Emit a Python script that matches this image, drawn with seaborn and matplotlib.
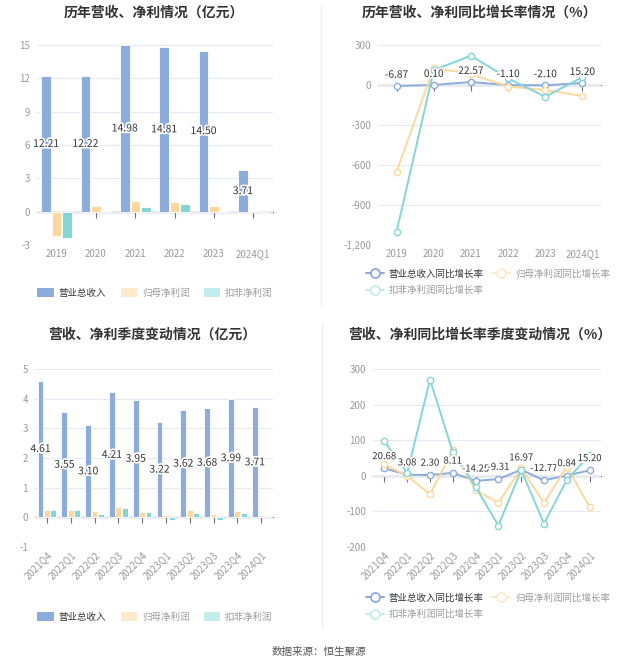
import matplotlib
matplotlib.use('Agg')
import matplotlib.pyplot as plt
import matplotlib.patheffects as pe
from matplotlib.lines import Line2D
from matplotlib.patches import Patch
from matplotlib.ticker import MultipleLocator, FuncFormatter
import pandas as pd
import seaborn as sb

# ---- data ----
years = ['2019', '2020', '2021', '2022', '2023', '2024Q1']
year_rev = [12.21, 12.22, 14.98, 14.81, 14.50, 3.71]
year_np = [-2.16, 0.54, 1.00, 0.84, 0.48, 0.02]
year_dnp = [-2.37, 0.10, 0.45, 0.69, 0.05, 0.01]

year_rev_g = [-6.87, 0.10, 22.57, -1.10, -2.10, 15.20]
year_np_g = [-650, 130, 82, -12, -37, -82]
year_dnp_g = [-1100, 112, 220, 50, -88, 58]

quarters = ['2021Q4', '2022Q1', '2022Q2', '2022Q3', '2022Q4',
            '2023Q1', '2023Q2', '2023Q3', '2023Q4', '2024Q1']
q_rev = [4.61, 3.55, 3.10, 4.21, 3.95, 3.22, 3.62, 3.68, 3.99, 3.71]
q_np = [0.26, 0.26, 0.20, 0.36, 0.17, 0.08, 0.24, 0.10, 0.21, 0.01]
q_dnp = [0.24, 0.24, 0.12, 0.30, 0.17, -0.08, 0.15, -0.09, 0.16, 0.03]

q_rev_g = [20.68, 3.08, 2.30, 8.11, -14.25, -9.31, 16.97, -12.77, 0.84, 15.20]
q_np_g = [32, 0, -52, 72, -40, -76, 21, -76, 25, -87]
q_dnp_g = [97, 8, 270, 67, -31, -140, 16, -134, -12, 58]

bar_names = ['营业总收入', '归母净利润', '扣非净利润']
line_names = ['营业总收入同比增长率', '归母净利润同比增长率', '扣非净利润同比增长率']
colors = ['#8cacdb', '#fdd89c', '#86d5d6']
legend_colors = ['#8cacdb', '#fee9cb', '#c3ecec']

sb.set_style('white')
plt.rcParams['font.family'] = ['Noto Sans CJK SC', 'DejaVu Sans']
plt.rcParams['axes.unicode_minus'] = False

W, H = 637, 668
fig = plt.figure(figsize=(W / 100, H / 100), dpi=100)


def fx(px):
    return px / W


def fy(py):
    return 1 - py / H


def add_ax(x0, y0, x1, y1):
    return fig.add_axes([fx(x0), fy(y1), fx(x1 - x0), (y1 - y0) / H])


def style_axes(ax, cats, ymin, ymax, step, rotate=False):
    ax.set_xlim(-0.5, len(cats) - 0.5)
    ax.set_ylim(ymin, ymax)
    ax.yaxis.set_major_locator(MultipleLocator(step))
    ax.yaxis.set_major_formatter(FuncFormatter(lambda v, p: f'{v:,.0f}'))
    for s in ax.spines.values():
        s.set_visible(False)
    ax.grid(axis='y', color='#e6e9f1', lw=0.8)
    ax.grid(axis='x', visible=False)
    ax.set_axisbelow(True)
    ax.tick_params(axis='both', length=0, colors='#9a9a9a', labelsize=7)
    ax.tick_params(axis='y', pad=5)
    ax.set_xlabel('')
    ax.set_ylabel('')
    if rotate:
        ax.tick_params(axis='x', labelrotation=45, pad=2)
        for lbl in ax.get_xticklabels():
            lbl.set_ha('right')
            lbl.set_rotation_mode('anchor')
    else:
        ax.tick_params(axis='x', pad=3)
    # zero axis line with ticks at category centres
    sec = ax.secondary_xaxis((0 - ymin) / (ymax - ymin))
    sec.set_alignment('bottom')
    sec.set_xticks(range(len(cats)))
    sec.tick_params(length=4, width=0.8, color='#6e7079', labelbottom=False)
    sec.spines['bottom'].set_color('#6e7079')
    sec.spines['bottom'].set_linewidth(0.9)


def bar_panel(ax, cats, rev, np_, dnp):
    df = pd.DataFrame({
        'period': cats * 3,
        'item': [n for n in bar_names for _ in cats],
        'value': rev + np_ + dnp,
    })
    sb.barplot(data=df, x='period', y='value', hue='item', hue_order=bar_names,
               palette=colors, saturation=1, width=0.8, gap=0.08, edgecolor='white',
               linewidth=0.6, errorbar=None, legend=False, ax=ax)
    ax.bar_label(ax.containers[0], labels=[f'{v:.2f}' for v in rev],
                 label_type='center', fontsize=7.5, color='#333333',
                 path_effects=[pe.withStroke(linewidth=2.5, foreground='white')])


def line_panel(ax, cats, a, b, c, off, fs):
    df = pd.DataFrame({
        'period': cats * 3,
        'item': [n for n in line_names for _ in cats],
        'value': a + b + c,
    })
    sb.lineplot(data=df, x='period', y='value', hue='item', hue_order=line_names,
                palette=colors, marker='o', markersize=4.5, linewidth=1.4,
                sort=False, legend=False, ax=ax)
    for ln in ax.lines:
        ln.set_markerfacecolor('white')
        ln.set_markeredgecolor(ln.get_color())
        ln.set_markeredgewidth(1.0)
    for cat, v in zip(cats, a):
        ax.annotate(f'{v:.2f}', xy=(cat, v), xytext=(0, off), textcoords='offset points',
                    ha='center', va='center', fontsize=fs, color='#333333',
                    path_effects=[pe.withStroke(linewidth=2.5, foreground='white')])


def bar_legend(ax, cx, cy):
    handles = [Patch(facecolor=c, edgecolor='none') for c in legend_colors]
    lg = ax.legend(handles, bar_names, loc='center', bbox_to_anchor=(fx(cx), fy(cy)),
                   bbox_transform=fig.transFigure, ncol=3, frameon=False,
                   fontsize=6.8, handlelength=1.7, handleheight=1.0,
                   handletextpad=0.5, columnspacing=1.6)
    for i, t in enumerate(lg.get_texts()):
        t.set_color('#333333' if i == 0 else '#9a9a9a')


def line_legend(ax, x0, y0):
    handles = [Line2D([0], [0], color=c, lw=1.5, marker='o', markersize=6.5,
                      markerfacecolor='white', markeredgecolor=c, markeredgewidth=1.3)
               for c in legend_colors]
    # legend fills column-wise: put the third item under the first
    order = [0, 2, 1]
    lg = ax.legend([handles[i] for i in order], [line_names[i] for i in order],
                   loc='upper left', bbox_to_anchor=(fx(x0), fy(y0)),
                   bbox_transform=fig.transFigure, ncol=2, frameon=False,
                   fontsize=6.8, handlelength=1.9, handletextpad=0.5,
                   columnspacing=0.9, labelspacing=0.75, borderpad=0, borderaxespad=0)
    for i, t in zip(order, lg.get_texts()):
        t.set_color('#333333' if i == 0 else '#9a9a9a')


title_kw = dict(ha='center', va='center', fontsize=10, fontweight='bold', color='#333333')

# top left: yearly revenue / profit
ax1 = add_ax(37, 45, 273, 245)
bar_panel(ax1, years, year_rev, year_np, year_dnp)
style_axes(ax1, years, -3, 15, 3)
bar_legend(ax1, 155, 293)
fig.text(fx(154), fy(13), '历年营收、净利情况（亿元）', **title_kw)

# top right: yearly growth
ax2 = add_ax(378, 45, 601, 245)
line_panel(ax2, years, year_rev_g, year_np_g, year_dnp_g, 8, 7.3)
style_axes(ax2, years, -1200, 300, 300)
line_legend(ax2, 366, 269)
fig.text(fx(479), fy(13), '历年营收、净利同比增长率情况（%）', **title_kw)

# bottom left: quarterly revenue / profit
ax3 = add_ax(35, 369, 273, 547)
bar_panel(ax3, quarters, q_rev, q_np, q_dnp)
style_axes(ax3, quarters, -1, 5, 1, rotate=True)
bar_legend(ax3, 155, 617)
fig.text(fx(152), fy(335), '营收、净利季度变动情况（亿元）', **title_kw)

# bottom right: quarterly growth
ax4 = add_ax(373, 369, 601, 547)
line_panel(ax4, quarters, q_rev_g, q_np_g, q_dnp_g, 8.5, 6.9)
style_axes(ax4, quarters, -200, 300, 100, rotate=True)
line_legend(ax4, 366, 593)
fig.text(fx(480), fy(335), '营收、净利同比增长率季度变动情况（%）', **title_kw)

# divider lines between the left and right panels
fig.add_artist(Line2D([fx(321), fx(321)], [fy(5), fy(305)], color='#eeeeee', lw=1))
fig.add_artist(Line2D([fx(322), fx(322)], [fy(323), fy(628)], color='#eeeeee', lw=1))

fig.text(0.5, fy(652), '数据来源：恒生聚源', ha='center', va='center',
         fontsize=7.6, color='#555555')

fig.savefig('out.png', dpi=100, facecolor='white')
